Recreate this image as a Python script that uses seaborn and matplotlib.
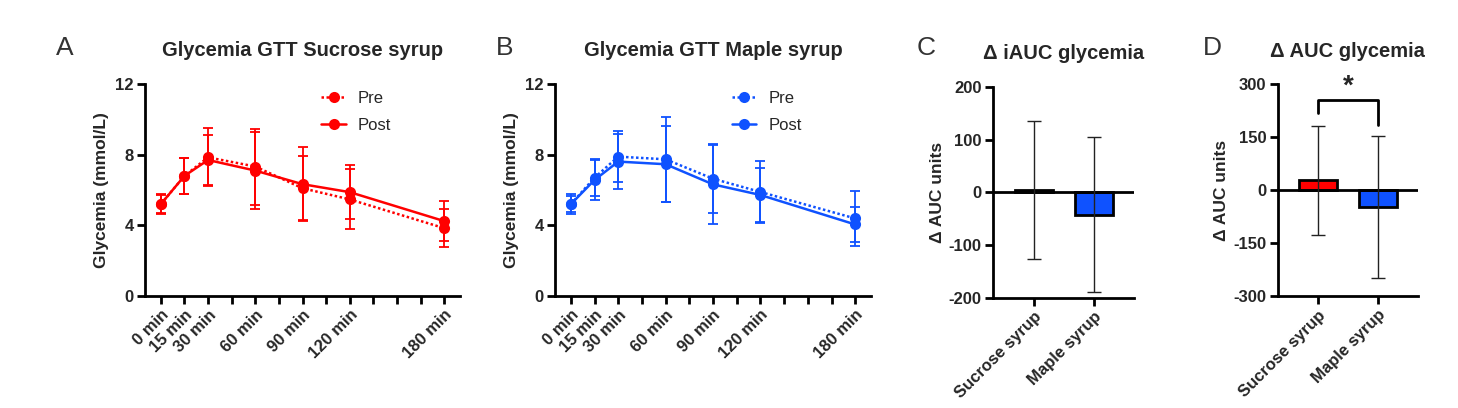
import numpy as np
import pandas as pd
import matplotlib
matplotlib.use("Agg")
import matplotlib.pyplot as plt
import seaborn as sns

sns.set_theme(style="ticks")
plt.rcParams['font.family'] = ['Liberation Sans', 'DejaVu Sans']
plt.rcParams['axes.unicode_minus'] = False

# ---------------- data ----------------
times = [0, 15, 30, 60, 90, 120, 180]
time_labels = ["0 min", "15 min", "30 min", "60 min", "90 min", "120 min", "180 min"]

sucrose_pre = [5.2, 6.8, 7.85, 7.33, 6.1, 5.47, 3.84]
sucrose_pre_sd = [0.55, 1.0, 1.65, 2.15, 1.8, 1.7, 1.06]
sucrose_post = [5.2, 6.8, 7.7, 7.1, 6.33, 5.88, 4.24]
sucrose_post_sd = [0.5, 1.0, 1.4, 2.18, 2.1, 1.53, 1.12]

maple_pre = [5.2, 6.7, 7.89, 7.74, 6.64, 5.89, 4.39]
maple_pre_sd = [0.55, 1.04, 1.45, 2.4, 1.94, 1.74, 1.54]
maple_post = [5.2, 6.57, 7.61, 7.46, 6.32, 5.72, 4.05]
maple_post_sd = [0.45, 1.15, 1.57, 2.16, 2.24, 1.53, 1.01]

groups = ["Sucrose syrup", "Maple syrup"]
iauc_mean = [5, -42]
iauc_sd = [131, 147]
auc_mean = [28, -48]
auc_sd = [155, 201]

RED = "#FF0000"
BLUE = "#0F52FF"

fig = plt.figure(figsize=(14.58, 4.08), dpi=100)

ax_pos = {
    "A": [0.0995, 0.2745, 0.216, 0.5195],
    "B": [0.3807, 0.2745, 0.2167, 0.5195],
    "C": [0.681, 0.2696, 0.0968, 0.5172],
    "D": [0.8763, 0.2738, 0.0961, 0.5196],
}

TICK_FS = 12
LAB_FS = 12.5
TITLE_FS = 14.5


def style_axes(ax):
    for s in ["top", "right"]:
        ax.spines[s].set_visible(False)
    for s in ["left", "bottom"]:
        ax.spines[s].set_linewidth(2)
        ax.spines[s].set_color("black")
    ax.tick_params(axis="both", width=2, length=6, color="black",
                   labelsize=TICK_FS, pad=2)
    for lbl in ax.get_yticklabels() + ax.get_xticklabels():
        lbl.set_fontweight("bold")


def line_panel(ax, pre, pre_sd, post, post_sd, color, title):
    df = pd.DataFrame({
        "time": times * 2,
        "glc": pre + post,
        "cond": ["Pre"] * len(times) + ["Post"] * len(times),
    })
    sns.lineplot(data=df, x="time", y="glc", hue="cond", style="cond",
                 palette={"Pre": color, "Post": color},
                 dashes={"Pre": (1, 1), "Post": ""},
                 markers={"Pre": "o", "Post": "o"},
                 markersize=8, markeredgewidth=0, linewidth=1.8, ax=ax,
                 legend=True, zorder=3)
    ax.errorbar(times, pre, yerr=pre_sd, fmt="none", ecolor=color,
                elinewidth=1.3, capsize=3.8, capthick=1.3, zorder=2)
    ax.errorbar(times, post, yerr=post_sd, fmt="none", ecolor=color,
                elinewidth=1.3, capsize=3.8, capthick=1.3, zorder=2)
    ax.set_xlim(-10, 190)
    ax.set_ylim(0, 12)
    ax.set_yticks([0, 4, 8, 12])
    ax.set_xticks(list(range(0, 181, 15)))
    ax.set_xticklabels([time_labels[times.index(t)] if t in times else ""
                        for t in range(0, 181, 15)])
    ax.set_xlabel("")
    ax.set_ylabel("Glycemia (mmol/L)", fontsize=LAB_FS, fontweight="bold", labelpad=5)
    ax.set_title(title, fontsize=TITLE_FS, fontweight="bold", pad=20)
    style_axes(ax)
    for lbl in ax.get_xticklabels():
        lbl.set_rotation(45)
        lbl.set_ha("right")
        lbl.set_rotation_mode("anchor")
    leg = ax.legend(loc="upper right", bbox_to_anchor=(0.83, 1.04), frameon=False,
                    fontsize=12, handlelength=1.45, handletextpad=0.75,
                    labelspacing=0.75)
    for h in leg.legend_handles:
        h.set_markersize(8)


def bar_panel(ax, means, sds, ylim, yticks, title):
    df = pd.DataFrame({"group": groups, "val": means})
    sns.barplot(data=df, x="group", y="val", hue="group",
                palette={groups[0]: RED, groups[1]: BLUE}, saturation=1,
                edgecolor="black", linewidth=2, width=0.64, ax=ax,
                legend=False, errorbar=None, zorder=2)
    ax.errorbar(range(len(groups)), means, yerr=sds, fmt="none",
                ecolor="#222222", elinewidth=1.0, capsize=5, capthick=1.0,
                zorder=4)
    ax.axhline(0, color="black", lw=2, zorder=3)
    ax.set_xlim(-0.68, 1.67)
    ax.set_ylim(*ylim)
    ax.set_yticks(yticks)
    ax.set_xlabel("")
    ax.set_ylabel("\u0394 AUC units", fontsize=LAB_FS, fontweight="bold", labelpad=3)
    ax.set_title(title, fontsize=TITLE_FS, fontweight="bold", pad=20)
    style_axes(ax)
    for lbl in ax.get_xticklabels():
        lbl.set_rotation(45)
        lbl.set_ha("right")
        lbl.set_rotation_mode("anchor")


axA = fig.add_axes(ax_pos["A"])
line_panel(axA, sucrose_pre, sucrose_pre_sd, sucrose_post, sucrose_post_sd,
           RED, "Glycemia GTT Sucrose syrup")
axB = fig.add_axes(ax_pos["B"])
line_panel(axB, maple_pre, maple_pre_sd, maple_post, maple_post_sd,
           BLUE, "Glycemia GTT Maple syrup")
axC = fig.add_axes(ax_pos["C"])
bar_panel(axC, iauc_mean, iauc_sd, (-200, 200), [-200, -100, 0, 100, 200],
          "\u0394 iAUC glycemia")
axD = fig.add_axes(ax_pos["D"])
bar_panel(axD, auc_mean, auc_sd, (-300, 300), [-300, -150, 0, 150, 300],
          "\u0394 AUC glycemia")

# significance bracket in D
axD.plot([0, 0, 1, 1], [220, 255, 255, 185], color="black", lw=2,
         clip_on=False, zorder=5)
axD.text(0.5, 292, "*", ha="center", va="center", fontsize=20,
         fontweight="bold", clip_on=False)

# panel letters
for letter, x in [("A", 65), ("B", 505), ("C", 926), ("D", 1212)]:
    fig.text(x / 1458, 1 - 48 / 408, letter, fontsize=19, color="#333333",
             ha="center", va="center")

fig.savefig("out.png", dpi=100)
